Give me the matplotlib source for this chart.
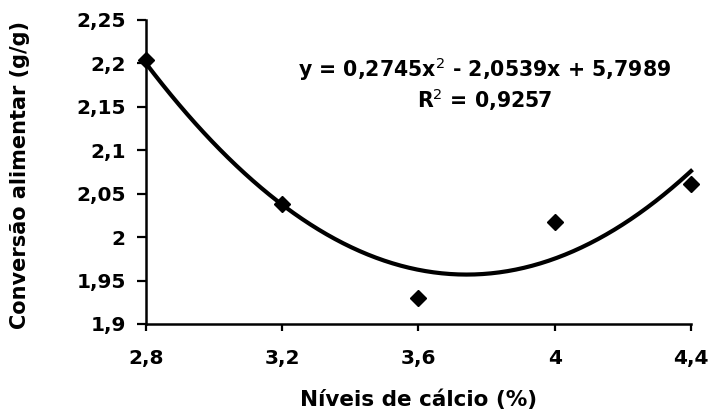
import numpy as np
import matplotlib
matplotlib.use("Agg")
from matplotlib import pyplot as plt
from matplotlib.ticker import FuncFormatter

niveis = [2.8, 3.2, 3.6, 4.0, 4.4]
conversao = [2.204, 2.038, 1.930, 2.017, 2.061]
coef = [0.2745, -2.0539, 5.7989]  # trendline do Excel
r2 = 0.9257

plt.rcParams['font.family'] = ['DejaVu Sans']

fig = plt.figure(figsize=(7.09, 4.16), dpi=100)
ax = fig.add_axes([146 / 709, 92 / 416, 545 / 709, 304 / 416])

xs = np.linspace(niveis[0], niveis[-1], 200)
ax.plot(xs, np.polyval(coef, xs), color='black', lw=3, clip_on=False)
ax.plot(niveis, conversao, 'D', color='black', ms=8.5, clip_on=False)

ax.set_xlim(2.8, 4.4)
ax.set_ylim(1.9, 2.25)
ax.set_xticks(niveis)
ax.set_yticks([1.9, 1.95, 2.0, 2.05, 2.1, 2.15, 2.2, 2.25])

def virgula(v, pos):
    s = ('%.2f' % v).rstrip('0').rstrip('.')
    return s.replace('.', ',')

ax.xaxis.set_major_formatter(FuncFormatter(virgula))
ax.yaxis.set_major_formatter(FuncFormatter(virgula))
ax.tick_params(labelsize=14.5, width=1.6, direction='out')
ax.tick_params(axis='y', length=6.5, pad=8)
ax.tick_params(axis='x', length=5, pad=13)
for lab in ax.get_xticklabels() + ax.get_yticklabels():
    lab.set_fontweight('bold')

for s in ['top', 'right']:
    ax.spines[s].set_visible(False)
for s in ['left', 'bottom']:
    ax.spines[s].set_linewidth(1.8)

ax.set_xlabel('Níveis de cálcio (%)', fontsize=15.5, fontweight='bold', va='center')
ax.set_ylabel('Conversão alimentar (g/g)', fontsize=15, fontweight='bold', va='center')
ax.xaxis.set_label_coords(0.5, (324 - 400) / 304)
ax.yaxis.set_label_coords((20 - 146) / 545, 0.49)

eq = 'y = %sx$^2$ - %sx + %s' % (str(coef[0]).replace('.', ','),
                                 str(-coef[1]).replace('.', ','),
                                 str(coef[2]).replace('.', ','))
fig.text(485 / 709, 1 - 69 / 416, eq, ha='center', va='center', fontsize=14.8, fontweight='bold')
fig.text(485 / 709, 1 - 100 / 416, 'R$^2$ = ' + str(r2).replace('.', ','), ha='center',
         va='center', fontsize=14.8, fontweight='bold')

fig.savefig('out.png', dpi=100)
